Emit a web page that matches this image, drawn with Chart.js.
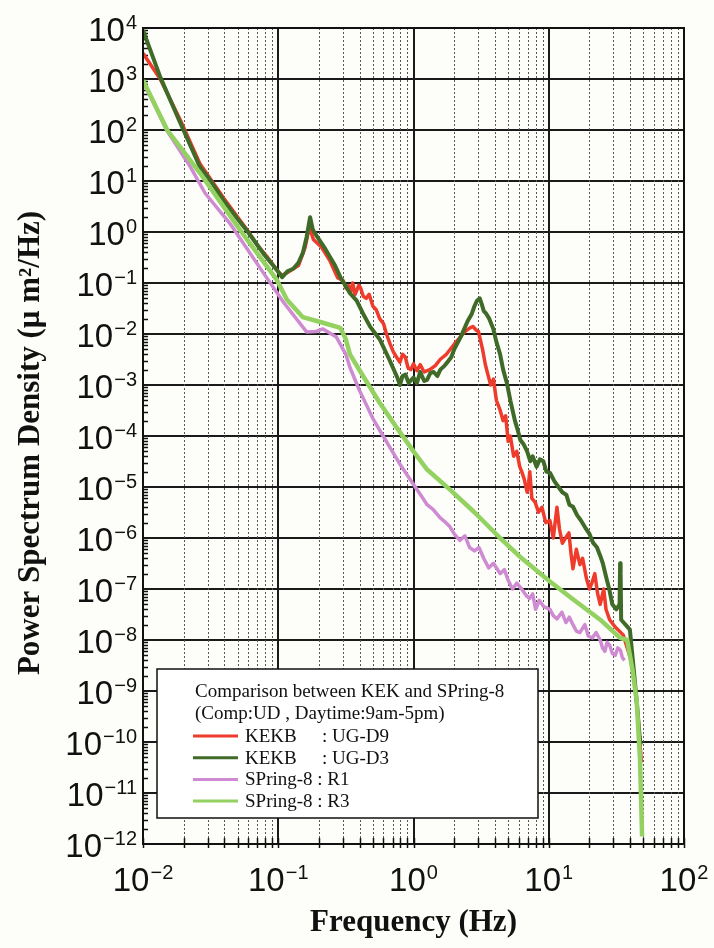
<!DOCTYPE html>
<html lang="en">
<head>
<meta charset="UTF-8">
<title>Power Spectrum Density - KEK vs SPring-8</title>
<script src="https://cdn.jsdelivr.net/npm/chart.js@4.4.1/dist/chart.umd.min.js"></script>
<style>
    html, body { margin: 0; padding: 0; background: #fdfdf9; }
    #psdChart { display: block; }
</style>
</head>
<body>
<canvas id="psdChart" width="714" height="948"></canvas>
<script>
// Values (Hz, um^2/Hz)

// KEKB : UG-D9 (red)
const ugD9Freq = [0.01, 0.0134, 0.0188, 0.0263, 0.0398, 0.0597, 0.0697, 0.0832, 0.1, 0.107,
    0.117, 0.141, 0.158, 0.17, 0.182, 0.209, 0.24, 0.275, 0.302, 0.316,
    0.331, 0.343, 0.355, 0.37, 0.38, 0.394, 0.407, 0.425, 0.447, 0.47,
    0.501, 0.53, 0.562, 0.6, 0.631, 0.67, 0.708, 0.75, 0.794, 0.83,
    0.871, 0.91, 0.955, 1.0, 1.06, 1.12, 1.2, 1.32, 1.45, 1.58,
    1.75, 2.0, 2.2, 2.4, 2.6, 2.75, 2.9, 3.02, 3.24, 3.4,
    3.55, 3.72, 3.9, 4.1, 4.37, 4.6, 4.8, 5.01, 5.2, 5.5,
    5.8, 6.1, 6.31, 6.6, 6.92, 7.1, 7.24, 7.5, 7.94, 8.4,
    8.91, 9.5, 10.2, 10.8, 11.5, 12.0, 12.6, 13.3, 14.1, 14.6,
    15.1, 16.0, 17.0, 17.8, 19.0, 20.0, 21.0, 21.9, 23.0, 24.0,
    25.5, 26.5, 28.2, 31.0, 35.5, 41.7, 45.7, 48.4];
const ugD9Psd = [3.2e3, 1.0e3, 1.6e2, 22, 4.5, 1.05, 0.56, 0.32, 0.166, 0.14,
    0.16, 0.22, 0.5, 1.26, 0.71, 0.5, 0.28, 0.126, 0.112, 0.08,
    0.089, 0.065, 0.1, 0.06, 0.071, 0.09, 0.079, 0.055, 0.05, 0.06,
    0.035, 0.03, 0.02, 0.016, 0.01, 6.5e-3, 4.5e-3, 3.5e-3, 2.8e-3, 4.0e-3,
    3.5e-3, 2.2e-3, 2.0e-3, 2.6e-3, 1.9e-3, 2.5e-3, 1.8e-3, 2.0e-3, 2.4e-3, 3.2e-3,
    4.0e-3, 6.3e-3, 8.5e-3, 1.12e-2, 1.3e-2, 1.4e-2, 1.2e-2, 1.12e-2, 5.0e-3, 2.5e-3,
    1.6e-3, 1.0e-3, 1.3e-3, 5.0e-4, 3.2e-4, 2.0e-4, 2.5e-4, 7.9e-5, 1.0e-4, 4.0e-5,
    5.0e-5, 2.5e-5, 2.0e-5, 1.4e-5, 7.9e-6, 1.2e-5, 2.0e-5, 6.0e-6, 5.0e-6, 3.2e-6,
    4.0e-6, 2.0e-6, 2.2e-6, 1.0e-6, 4.0e-6, 1.5e-6, 7.9e-7, 1.0e-6, 1.26e-6, 5.0e-7,
    2.5e-7, 6.0e-7, 3.0e-7, 4.0e-7, 1.6e-7, 1.0e-7, 1.4e-7, 2.0e-7, 8.0e-8, 5.0e-8,
    1.0e-7, 4.0e-8, 2.5e-8, 1.8e-8, 1.26e-8, 3.2e-9, 3.2e-10, 4.0e-11];

// KEKB : UG-D3 (dark green)
const ugD3Freq = [0.01, 0.0134, 0.0188, 0.0263, 0.0313, 0.0398, 0.0501, 0.0597, 0.0794, 0.0977,
    0.107, 0.117, 0.129, 0.141, 0.152, 0.162, 0.172, 0.18, 0.195, 0.219,
    0.242, 0.263, 0.288, 0.339, 0.38, 0.424, 0.479, 0.562, 0.661, 0.759,
    0.794, 0.83, 0.871, 0.92, 1.0, 1.06, 1.12, 1.2, 1.26, 1.33,
    1.41, 1.5, 1.58, 1.7, 1.78, 1.9, 2.0, 2.24, 2.51, 2.7,
    2.82, 2.95, 3.09, 3.2, 3.31, 3.45, 3.63, 3.89, 4.1, 4.37,
    4.6, 4.9, 5.2, 5.62, 5.9, 6.17, 6.5, 6.92, 7.3, 7.6,
    8.13, 8.6, 9.12, 9.6, 10.2, 11.0, 11.8, 12.6, 13.5, 14.2,
    15.1, 16.2, 17.3, 18.6, 20.0, 21.3, 22.7, 24.0, 25.1, 26.9,
    28.0, 29.5, 31.6, 33.4, 33.7, 34.0, 34.3, 39.8, 42.2, 44.7,
    47.0, 47.9];
const ugD3Psd = [9.1e3, 1.1e3, 1.4e2, 19, 10.5, 4.0, 1.8, 1.0, 0.35, 0.18,
    0.13, 0.17, 0.19, 0.25, 0.39, 0.79, 1.95, 1.12, 0.79, 0.5,
    0.32, 0.22, 0.13, 0.063, 0.045, 0.025, 0.0138, 7.9e-3, 3.2e-3, 1.4e-3,
    1.0e-3, 1.5e-3, 1.6e-3, 1.1e-3, 1.4e-3, 1.1e-3, 1.8e-3, 1.2e-3, 1.26e-3, 1.7e-3,
    1.8e-3, 1.5e-3, 2.0e-3, 2.4e-3, 2.8e-3, 3.5e-3, 5.0e-3, 8.9e-3, 1.78e-2, 2.5e-2,
    3.5e-2, 4.5e-2, 5.0e-2, 3.8e-2, 2.8e-2, 2.5e-2, 2.0e-2, 1.26e-2, 7.0e-3, 4.0e-3,
    2.0e-3, 1.1e-3, 5.0e-4, 2.0e-4, 1.3e-4, 8.3e-5, 7.0e-5, 5.0e-5, 3.2e-5, 4.0e-5,
    2.5e-5, 3.5e-5, 3.2e-5, 2.0e-5, 1.9e-5, 1.3e-5, 1.0e-5, 7.9e-6, 7.0e-6, 4.5e-6,
    4.1e-6, 2.8e-6, 2.2e-6, 1.6e-6, 1.2e-6, 8.0e-7, 6.6e-7, 4.5e-7, 3.2e-7, 1.5e-7,
    1.0e-7, 5.0e-8, 4.0e-8, 5.0e-8, 3.2e-7, 2.0e-7, 2.5e-8, 1.6e-8, 3.2e-9, 6.3e-10,
    1.26e-10, 8.9e-11];

// SPring-8 : R1 (pink)
const r1Freq = [0.01, 0.0151, 0.0224, 0.0288, 0.0437, 0.0776, 0.11, 0.162, 0.19, 0.214,
    0.24, 0.269, 0.316, 0.339, 0.398, 0.501, 0.596, 0.794, 1.03, 1.15,
    1.26, 1.4, 1.57, 1.7, 1.86, 2.0, 2.2, 2.4, 2.6, 2.82,
    3.05, 3.3, 3.6, 3.9, 4.37, 4.7, 5.0, 5.4, 5.8, 6.31,
    6.8, 7.2, 7.6, 8.0, 8.5, 9.2, 10.2, 10.8, 11.5, 12.5,
    13.4, 14.2, 15.1, 16.0, 17.0, 18.5, 19.6, 21.0, 22.4, 24.0,
    25.0, 26.0, 27.0, 28.2, 29.5, 31.0, 32.4, 33.9, 35.0, 36.3];
const r1Psd = [9.0e2, 9.5e1, 1.9e1, 5.75, 1.5, 0.158, 0.041, 0.011, 0.0112, 0.0126,
    0.0105, 8.7e-3, 4.0e-3, 2.2e-3, 7.9e-4, 2.2e-4, 1.0e-4, 2.8e-5, 1.0e-5, 6.5e-6,
    4.5e-6, 3.6e-6, 2.5e-6, 2.1e-6, 1.66e-6, 1.2e-6, 9.0e-7, 1.1e-6, 6.5e-7, 5.6e-7,
    6.5e-7, 4.0e-7, 2.6e-7, 3.2e-7, 2.0e-7, 2.4e-7, 1.5e-7, 1.0e-7, 1.3e-7, 1.0e-7,
    7.5e-8, 6.5e-8, 8.0e-8, 4.0e-8, 6.0e-8, 4.5e-8, 4.0e-8, 3.0e-8, 2.6e-8, 3.5e-8,
    2.2e-8, 2.8e-8, 2.0e-8, 1.5e-8, 1.4e-8, 2.0e-8, 1.2e-8, 1.1e-8, 1.4e-8, 1.0e-8,
    7.0e-9, 6.0e-9, 9.0e-9, 7.9e-9, 5.5e-9, 5.0e-9, 7.0e-9, 6.3e-9, 4.5e-9, 4.0e-9];

// SPring-8 : R3 (light green)
const r3Freq = [0.01, 0.0151, 0.0263, 0.0521, 0.0977, 0.116, 0.152, 0.214, 0.288, 0.316,
    0.339, 0.427, 0.562, 0.759, 1.0, 1.26, 1.86, 2.82, 4.37, 6.31,
    10.2, 15.1, 24.0, 33.7, 38.0, 41.7, 44.7, 47.3, 49.0];
const r3Psd = [9.5e2, 1.0e2, 14.5, 1.1, 0.115, 0.047, 0.0214, 0.0166, 0.0132, 7.9e-3,
    4.0e-3, 1.45e-3, 4.5e-4, 1.4e-4, 5.0e-5, 2.2e-5, 8.9e-6, 3.2e-6, 1.0e-6, 4.0e-7,
    1.4e-7, 6.3e-8, 2.5e-8, 1.1e-8, 1.0e-8, 2.5e-9, 6.3e-10, 4.5e-11, 1.4e-12];

const seriesNames = ['KEKB', 'KEKB', 'SPring-8', 'SPring-8'];
const seriesStations = ['UG-D9', 'UG-D3', 'R1', 'R3'];
const seriesColors = ['#ee3b2b', '#3f6a27', '#cf8bd2', '#93d160'];
const seriesWidths = [3.5, 4, 3.5, 4.5];

// Axis decades (tick labels are 10^n)
const xTickExponents = [-2, -1, 0, 1, 2];
const yTickExponents = [4, 3, 2, 1, 0, -1, -2, -3, -4, -5, -6, -7, -8, -9, -10, -11, -12];
const minorSteps = [2, 3, 4, 5, 6, 7, 8, 9];

const legendTitle = ['Comparison between KEK and SPring-8', '(Comp:UD , Daytime:9am-5pm)'];

const LABEL_FONT = '33px "Liberation Sans", Arial, sans-serif';
const SUP_FONT = '20px "Liberation Sans", Arial, sans-serif';
const TITLE_FONT = 'bold 31px "Liberation Serif", "Times New Roman", serif';
const LEGEND_FONT = '19px "Liberation Serif", "Times New Roman", serif';

document.addEventListener('DOMContentLoaded', () => {
    initializeChart();
});

// Build decade + minor ticks for a log axis
function buildLogTicks(exponents) {
    const lo = Math.min(...exponents);
    const hi = Math.max(...exponents);
    const ticks = [];
    for (let e = lo; e <= hi; e++) {
        ticks.push({ value: Math.pow(10, e), major: true });
        if (e < hi) {
            minorSteps.forEach(m => ticks.push({ value: m * Math.pow(10, e), major: false }));
        }
    }
    return ticks;
}

function toPoints(freq, psd) {
    return freq.map((f, i) => ({ x: f, y: psd[i] }));
}

// Draw "10" with a raised exponent
function drawPowerLabel(ctx, exp, x, y, align) {
    const base = '10';
    const sup = String(exp).replace('-', '\u2212');
    ctx.font = LABEL_FONT;
    const bw = ctx.measureText(base).width;
    ctx.font = SUP_FONT;
    const sw = ctx.measureText(sup).width;
    const left = align === 'right' ? x - bw - sw - 1 : x - (bw + sw + 1) / 2;
    ctx.textAlign = 'left';
    ctx.textBaseline = 'alphabetic';
    ctx.font = LABEL_FONT;
    ctx.fillText(base, left, y);
    ctx.font = SUP_FONT;
    ctx.fillText(sup, left + bw + 1, y - 12);
}

const decorPlugin = {
    id: 'psdDecor',
    beforeDatasetsDraw(chart) {
        const { ctx, chartArea: a, scales } = chart;
        ctx.save();
        // minor vertical grid lines (dashed)
        ctx.strokeStyle = '#555';
        ctx.lineWidth = 1;
        ctx.setLineDash([2, 2]);
        scales.x.ticks.filter(t => !t.major).forEach(t => {
            const x = Math.round(scales.x.getPixelForValue(t.value)) + 0.5;
            ctx.beginPath();
            ctx.moveTo(x, a.top);
            ctx.lineTo(x, a.bottom);
            ctx.stroke();
        });
        ctx.setLineDash([]);
        // minor ticks on left and bottom axes
        ctx.strokeStyle = '#111';
        ctx.lineWidth = 1.5;
        scales.y.ticks.filter(t => !t.major).forEach(t => {
            const y = Math.round(scales.y.getPixelForValue(t.value)) + 0.5;
            ctx.beginPath();
            ctx.moveTo(a.left, y);
            ctx.lineTo(a.left + 5, y);
            ctx.stroke();
        });
        scales.x.ticks.forEach(t => {
            const x = Math.round(scales.x.getPixelForValue(t.value)) + 0.5;
            ctx.beginPath();
            ctx.moveTo(x, a.bottom - 6);
            ctx.lineTo(x, a.bottom + 4);
            ctx.stroke();
        });
        ctx.restore();
    },
    afterDraw(chart) {
        const { ctx, chartArea: a, scales } = chart;
        ctx.save();
        // plot frame
        ctx.strokeStyle = '#111';
        ctx.lineWidth = 2;
        ctx.strokeRect(a.left, a.top, a.right - a.left, a.bottom - a.top);

        // tick labels
        ctx.fillStyle = '#111';
        yTickExponents.forEach(e => {
            const y = scales.y.getPixelForValue(Math.pow(10, e));
            drawPowerLabel(ctx, e, a.left - 6, y + 13, 'right');
        });
        xTickExponents.forEach(e => {
            const x = scales.x.getPixelForValue(Math.pow(10, e));
            drawPowerLabel(ctx, e, x, a.bottom + 47, 'center');
        });

        // axis titles
        ctx.font = TITLE_FONT;
        ctx.textAlign = 'center';
        ctx.textBaseline = 'middle';
        ctx.fillText('Frequency (Hz)', (a.left + a.right) / 2, 923);
        ctx.save();
        ctx.translate(31, 443);
        ctx.rotate(-Math.PI / 2);
        ctx.fillText('Power Spectrum Density (\u03bc m\u00b2/Hz)', 0, 0);
        ctx.restore();

        drawLegend(chart);
        ctx.restore();
    }
};

// Legend box inside the plot, lower left
function drawLegend(chart) {
    const ctx = chart.ctx;
    const box = { x: 157, y: 669, w: 381, h: 149 };
    ctx.save();
    ctx.fillStyle = '#ffffff';
    ctx.fillRect(box.x, box.y, box.w, box.h);
    ctx.strokeStyle = '#111';
    ctx.lineWidth = 1.5;
    ctx.strokeRect(box.x, box.y, box.w, box.h);

    ctx.fillStyle = '#111';
    ctx.font = LEGEND_FONT;
    ctx.textAlign = 'left';
    ctx.textBaseline = 'alphabetic';
    legendTitle.forEach((line, i) => ctx.fillText(line, 195, 697 + i * 21.5));

    chart.data.datasets.forEach((ds, i) => {
        const y = 742 + i * 21.7;
        ctx.strokeStyle = ds.borderColor;
        ctx.lineWidth = 3;
        ctx.beginPath();
        ctx.moveTo(193, y - 6);
        ctx.lineTo(238, y - 6);
        ctx.stroke();
        ctx.fillStyle = '#111';
        if (seriesNames[i] === 'KEKB') {
            ctx.fillText(seriesNames[i], 245, y);
            ctx.fillText(': ' + seriesStations[i], 322, y);
        } else {
            ctx.fillText(seriesNames[i] + ' : ' + seriesStations[i], 245, y);
        }
    });
    ctx.restore();
}

function initializeChart() {
    const ctx = document.getElementById('psdChart').getContext('2d');
    const sets = [
        [ugD9Freq, ugD9Psd, 3],
        [ugD3Freq, ugD3Psd, 2],
        [r1Freq, r1Psd, 1],
        [r3Freq, r3Psd, 0]
    ];

    const datasets = sets.map(([f, p, order], i) => ({
        label: seriesNames[i] + ' : ' + seriesStations[i],
        data: toPoints(f, p),
        borderColor: seriesColors[i],
        backgroundColor: seriesColors[i],
        borderWidth: seriesWidths[i],
        pointRadius: 0,
        showLine: true,
        tension: 0,
        borderJoinStyle: 'round',
        order: order
    }));

    const gridColor = c => (c.tick && c.tick.major ? '#1a1a1a' : 'rgba(0,0,0,0)');

    new Chart(ctx, {
        type: 'scatter',
        data: { datasets },
        options: {
            responsive: false,
            animation: false,
            layout: { padding: { left: 143, top: 28, right: 30, bottom: 104 } },
            plugins: {
                legend: { display: false },
                tooltip: { enabled: false }
            },
            scales: {
                x: {
                    type: 'logarithmic',
                    min: 0.01,
                    max: 100,
                    ticks: { display: false },
                    grid: { drawTicks: false, color: gridColor, lineWidth: 2 },
                    border: { display: false },
                    afterBuildTicks: scale => { scale.ticks = buildLogTicks(xTickExponents); }
                },
                y: {
                    type: 'logarithmic',
                    min: 1e-12,
                    max: 1e4,
                    ticks: { display: false },
                    grid: { drawTicks: false, color: gridColor, lineWidth: 2 },
                    border: { display: false },
                    afterBuildTicks: scale => { scale.ticks = buildLogTicks(yTickExponents); }
                }
            }
        },
        plugins: [decorPlugin]
    });
}
</script>
</body>
</html>
